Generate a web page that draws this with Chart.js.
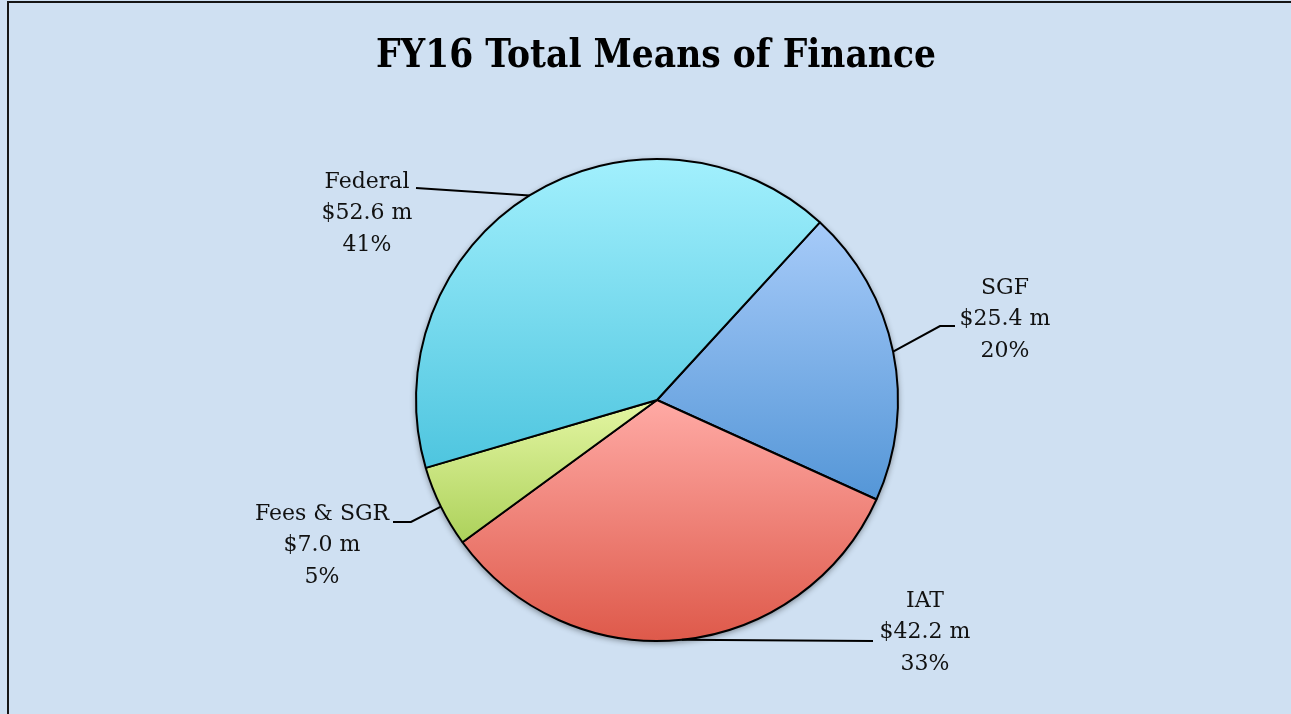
<!DOCTYPE html>
<html>
<head>
<meta charset="utf-8">
<script src="https://cdn.jsdelivr.net/npm/chart.js@4/dist/chart.umd.min.js"></script>
<style>
  html, body { margin: 0; padding: 0; background: #cfe0f2; }
  #wrap { position: relative; width: 1291px; height: 714px; }
</style>
</head>
<body>
<div id="wrap"><canvas id="c" width="1291" height="714"></canvas></div>
<script>
// ---- data ----
const categories = ['SGF', 'IAT', 'Fees & SGR', 'Federal'];
const values = [25.4, 42.2, 7.0, 52.6];
const amountLabels = ['$25.4 m', '$42.2 m', '$7.0 m', '$52.6 m'];
const percentLabels = ['20%', '33%', '5%', '41%'];
const titleText = 'FY16 Total Means of Finance';

// ---- styles ----
const gradientTop = ['#a7cbf9', '#ffaaa5', '#e4f6a3', '#a2f0fd'];
const gradientBottom = ['#5496d7', '#de594a', '#acd15a', '#4ec5df'];
const startRotation = 42.5;
const bgColor = '#cfe0f2';

// label layout: label centre x, first line y, leader path after the arc point
const labelLayout = [
  { x: 1005, y: 288, path: [[940, 326], [955, 326]] },
  { x: 925, y: 601, path: [[873, 641]] },
  { x: 322, y: 514, path: [[411, 522], [393, 522]] },
  { x: 367, y: 182, path: [[416, 188]] }
];
const titleLayout = { x: 656, y: 57, size: 39, maxWidth: 560 };

function sectorYRange(a0, a1, cy, r) {
  const ys = [cy, cy + r * Math.sin(a0), cy + r * Math.sin(a1)];
  for (let k = -2; k <= 3; k++) {
    const down = Math.PI / 2 + 2 * Math.PI * k;
    const up = -Math.PI / 2 + 2 * Math.PI * k;
    if (down >= a0 && down <= a1) ys.push(cy + r);
    if (up >= a0 && up <= a1) ys.push(cy - r);
  }
  return [Math.min(...ys), Math.max(...ys)];
}

function sliceGradient(ctx) {
  const chart = ctx.chart;
  const area = chart.chartArea;
  const i = ctx.dataIndex;
  if (!area || i === undefined) return gradientBottom[i || 0];
  const cy = (area.top + area.bottom) / 2;
  const r = Math.min(area.right - area.left, area.bottom - area.top) / 2;
  const total = values.reduce((a, b) => a + b, 0);
  let cum = 0;
  for (let k = 0; k < i; k++) cum += values[k];
  const base = -Math.PI / 2 + startRotation * Math.PI / 180;
  const a0 = base + cum / total * 2 * Math.PI;
  const a1 = a0 + values[i] / total * 2 * Math.PI;
  const [y0, y1] = sectorYRange(a0, a1, cy, r);
  const g = chart.ctx.createLinearGradient(0, y0, 0, y1);
  g.addColorStop(0, gradientTop[i]);
  g.addColorStop(1, gradientBottom[i]);
  return g;
}

const framePlugin = {
  id: 'frame',
  beforeDraw(chart) {
    const c = chart.ctx;
    c.save();
    c.fillStyle = bgColor;
    c.fillRect(0, 0, chart.width, chart.height);
    c.fillStyle = '#151515';
    c.fillRect(7, 1, chart.width - 7, 2);
    c.fillRect(7, 1, 2, chart.height - 1);
    c.fillStyle = '#000';
    c.font = 'bold ' + titleLayout.size + 'px "DejaVu Serif"';
    c.textAlign = 'center';
    c.textBaseline = 'middle';
    c.fillText(titleText, titleLayout.x, titleLayout.y, titleLayout.maxWidth);
    c.restore();
  },
  beforeDatasetsDraw(chart) {
    const meta = chart.getDatasetMeta(0);
    const arc = meta.data[0];
    if (!arc) return;
    const c = chart.ctx;
    c.save();
    c.shadowColor = 'rgba(0,0,0,0.45)';
    c.shadowBlur = 6;
    c.shadowOffsetY = 2;
    c.fillStyle = '#888';
    c.beginPath();
    c.arc(arc.x, arc.y, arc.outerRadius, 0, Math.PI * 2);
    c.fill();
    c.restore();
  }
};

const labelPlugin = {
  id: 'outLabels',
  afterDatasetsDraw(chart) {
    const meta = chart.getDatasetMeta(0);
    const c = chart.ctx;
    c.save();
    meta.data.forEach((arc, i) => {
      const mid = (arc.startAngle + arc.endAngle) / 2;
      const sx = arc.x + Math.cos(mid) * arc.outerRadius;
      const sy = arc.y + Math.sin(mid) * arc.outerRadius;
      const L = labelLayout[i];
      c.strokeStyle = '#000';
      c.lineWidth = 2;
      c.lineJoin = 'miter';
      c.beginPath();
      c.moveTo(sx, sy);
      L.path.forEach(p => c.lineTo(p[0], p[1]));
      c.stroke();
      c.fillStyle = '#111';
      c.font = '22px "DejaVu Serif"';
      c.textAlign = 'center';
      c.textBaseline = 'middle';
      const lines = [categories[i], amountLabels[i], percentLabels[i]];
      lines.forEach((t, k) => c.fillText(t, L.x, L.y + k * 31.5));
    });
    c.restore();
  }
};

new Chart(document.getElementById('c'), {
  type: 'pie',
  data: {
    labels: categories,
    datasets: [{
      data: values,
      backgroundColor: sliceGradient,
      borderColor: '#000',
      borderWidth: 2
    }]
  },
  options: {
    responsive: false,
    animation: false,
    events: [],
    rotation: startRotation,
    layout: { padding: { left: 415, right: 392, top: 158, bottom: 72 } },
    plugins: {
      legend: { display: false },
      tooltip: { enabled: false },
      title: { display: false }
    }
  },
  plugins: [framePlugin, labelPlugin]
});
</script>
</body>
</html>
